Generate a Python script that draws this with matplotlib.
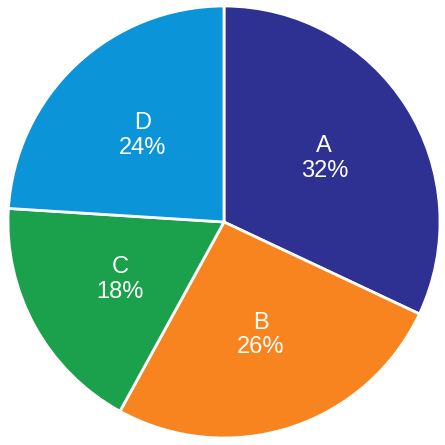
import matplotlib
matplotlib.use("Agg")
import matplotlib.pyplot as plt
import numpy as np

labels = ["A", "B", "C", "D"]
values = [32, 26, 18, 24]
colors = ["#2e3192", "#f7841e", "#1ba14b", "#0b95d8"]

fig = plt.figure(figsize=(4.45, 4.45), dpi=100)
ax = fig.add_axes([0, 0, 1, 1])
wedges, texts = ax.pie(values, colors=colors, startangle=90, counterclock=False,
                       wedgeprops=dict(edgecolor="white", linewidth=2))
ang = 90
for w, lab, v in zip(wedges, labels, values):
    mid = np.deg2rad(ang - v * 3.6 / 2)
    ang -= v * 3.6
    x, y = 0.55 * np.cos(mid), 0.55 * np.sin(mid)
    ax.text(x, y, f"{lab}\n{v}%", ha="center", va="center", color="white",
            fontsize=17, family="Liberation Sans", linespacing=1.15)
r = 216.0
ax.set_xlim(-224 / r, (445 - 224) / r)
ax.set_ylim(-(445 - 222) / r, 222 / r)
ax.set_aspect("auto")
ax.axis("off")
fig.savefig("out.png")
